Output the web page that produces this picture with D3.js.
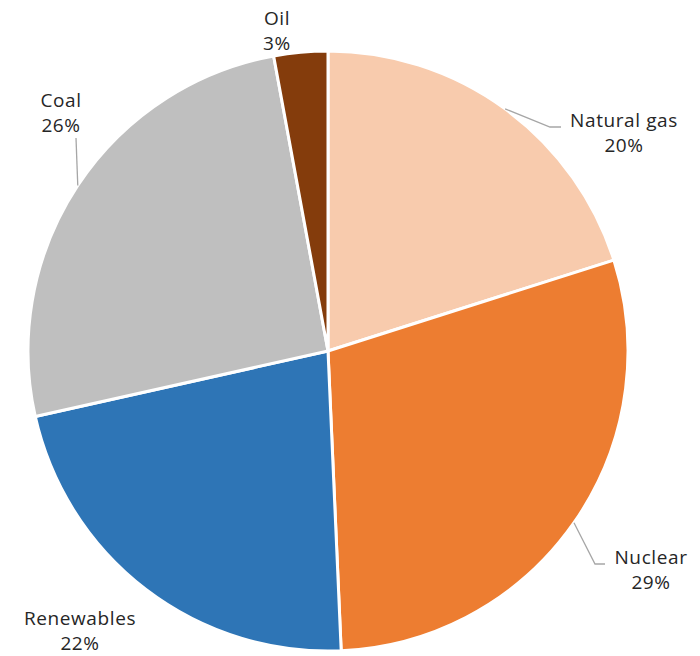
<!DOCTYPE html>
<html>
<head>
<meta charset="utf-8">
<script src="https://cdn.jsdelivr.net/npm/d3@7"></script>
<style>
  html, body { margin: 0; padding: 0; background: #fff; }
  svg text { font-family: "Century Gothic", "Open Sans", "Lato", sans-serif; }
</style>
</head>
<body>
<svg id="chart" width="700" height="656"></svg>
<script>
// Data
const categories = ["Natural gas", "Nuclear", "Renewables", "Coal", "Oil"];
const shares = [20.1, 29.2, 22.2, 25.6, 2.9];
const percentLabels = ["20%", "29%", "22%", "26%", "3%"];
const colors = ["#F8CBAD", "#ED7D31", "#2E75B6", "#BFBFBF", "#843C0C"];

// Layout
const W = 700, H = 656;
const cx = 328, cy = 351, R = 300;
// label anchor (text centre x, first baseline y) relative to pie centre
const labelPos = [[296, -224], [323, 213], [-248, 274], [-267, -244], [-51, -326]];
// leader elbow relative to pie centre, and end point (null = no leader)
const leaderElbow = [[222, -224], [267, 213], null, [-252, -213], null];
const leaderEnd = [[233, -224], [277, 213], null, null, null];

const svg = d3.select("#chart");
const g = svg.append("g").attr("transform", `translate(${cx},${cy})`);

const pie = d3.pie().sort(null).value(d => d)(shares);
const arc = d3.arc().innerRadius(0).outerRadius(R);

g.selectAll("path.slice")
  .data(pie)
  .join("path")
  .attr("class", "slice")
  .attr("d", arc)
  .attr("fill", (d, i) => colors[i])
  .attr("stroke", "#fff")
  .attr("stroke-width", 3)
  .attr("stroke-linejoin", "round");

// leader lines
pie.forEach((d, i) => {
  if (!leaderElbow[i]) return;
  const mid = (d.startAngle + d.endAngle) / 2;
  const p0 = [Math.sin(mid) * R, -Math.cos(mid) * R];
  const pts = [p0, leaderElbow[i]];
  if (leaderEnd[i]) pts.push(leaderEnd[i]);
  g.append("path")
    .attr("d", d3.line()(pts))
    .attr("fill", "none")
    .attr("stroke", "#A6A6A6")
    .attr("stroke-width", 1.3);
});

// labels
const lbl = g.selectAll("text.lbl")
  .data(pie)
  .join("text")
  .attr("class", "lbl")
  .attr("text-anchor", "middle")
  .attr("font-size", 19)
  .attr("letter-spacing", 0.6)
  .attr("fill", "#262626")
  .attr("x", (d, i) => labelPos[i][0])
  .attr("y", (d, i) => labelPos[i][1]);
lbl.append("tspan").attr("x", (d, i) => labelPos[i][0]).text((d, i) => categories[i]);
lbl.append("tspan").attr("x", (d, i) => labelPos[i][0]).attr("dy", 25).text((d, i) => percentLabels[i]);
</script>
</body>
</html>
